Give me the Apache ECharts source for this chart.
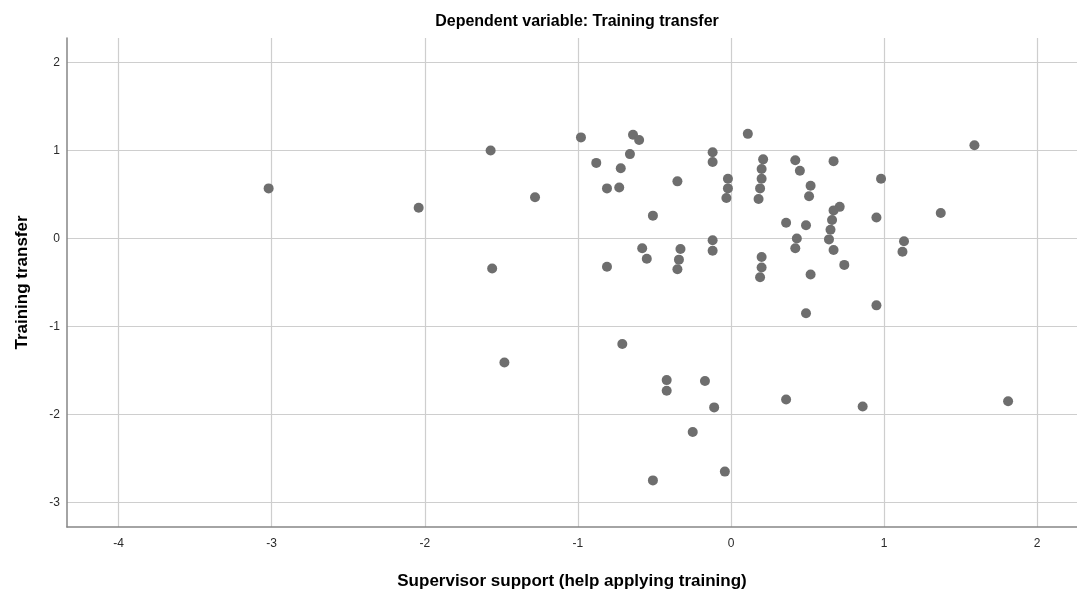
<!DOCTYPE html>
<html><head><meta charset="utf-8">
<script src="https://cdn.jsdelivr.net/npm/echarts@6/dist/echarts.min.js"></script>
<style>html,body{margin:0;padding:0;background:#fff}#c{width:1077px;height:597px}</style>
</head><body><div id="c"></div>
<script>
const xValues = [-3.02,-2.04,-1.28,-1.57,-1.56,-1.48,-0.98,-0.88,-0.81,-0.81,-0.73,-0.72,-0.66,-0.64,-0.60,-0.51,-0.58,-0.55,-0.35,-0.33,-0.34,-0.35,-0.12,-0.12,-0.12,-0.12,-0.02,-0.02,-0.03,0.11,0.21,0.20,0.20,0.19,0.18,0.42,0.45,0.52,0.51,0.67,0.98,0.71,0.67,0.66,0.65,0.64,0.67,0.36,0.49,0.43,0.42,0.95,1.37,1.59,1.13,1.12,0.20,0.20,0.19,0.52,0.74,0.95,0.49,-0.71,-0.42,-0.42,-0.17,-0.11,-0.25,-0.04,-0.51,0.36,0.86,1.81];
const yValues = [0.57,0.35,0.47,1.00,-0.34,-1.41,1.15,0.86,-0.32,0.57,0.58,0.80,0.96,1.18,1.12,0.26,-0.11,-0.23,0.65,-0.12,-0.24,-0.35,0.98,0.87,-0.02,-0.14,0.68,0.57,0.46,1.19,0.90,0.79,0.68,0.57,0.45,0.89,0.77,0.60,0.48,0.88,0.68,0.36,0.32,0.21,0.10,-0.01,-0.13,0.18,0.15,0.00,-0.11,0.24,0.29,1.06,-0.03,-0.15,-0.21,-0.33,-0.44,-0.41,-0.30,-0.76,-0.85,-1.20,-1.61,-1.73,-1.62,-1.92,-2.20,-2.65,-2.75,-1.83,-1.91,-1.85];
const xTicks = [-4,-3,-2,-1,0,1,2];
const yTicks = [-3,-2,-1,0,1,2];
const points = xValues.map((x,i)=>[x,yValues[i]]);
const font = '"Liberation Sans", Arial, sans-serif';
const chart = echarts.init(document.getElementById('c'));
chart.setOption({
  animation:false,
  backgroundColor:'#fff',
  title:{text:'Dependent variable: Training transfer',left:572,textAlign:'center',top:9,
    textStyle:{fontFamily:font,fontSize:16,fontWeight:'bold',color:'#000'}},
  grid:{left:67,right:0,top:38,bottom:70,containLabel:false},
  xAxis:{type:'value',min:-4.337,max:2.26,
    name:'Supervisor support (help applying training)',nameLocation:'middle',nameGap:46,
    nameTextStyle:{fontFamily:font,fontSize:17,fontWeight:'bold',color:'#000'},
    axisLine:{show:true,onZero:false,lineStyle:{color:'#868686',width:1.5}},
    axisTick:{show:false,customValues:xTicks},
    axisLabel:{fontFamily:font,fontSize:12,color:'#2a2a2a',margin:11,
      customValues:xTicks, formatter:v=>String(v)},
    splitLine:{show:true,lineStyle:{color:'#cecece',width:1.2}}
  },
  yAxis:{type:'value',min:-3.28,max:2.28,
    name:'Training transfer',nameLocation:'middle',nameGap:36,nameRotate:90,
    nameTextStyle:{fontFamily:font,fontSize:17,fontWeight:'bold',color:'#000'},
    axisLine:{show:true,onZero:false,lineStyle:{color:'#868686',width:1.5}},
    axisTick:{show:false,customValues:yTicks},
    axisLabel:{fontFamily:font,fontSize:12,color:'#2a2a2a',margin:7,
      customValues:yTicks, formatter:v=>String(v)},
    splitLine:{show:true,lineStyle:{color:'#cecece',width:1.2}}
  },
  series:[{type:'scatter',data:points,symbolSize:10,
    itemStyle:{color:'#6e6e6e',opacity:1}}]
});
</script></body></html>
